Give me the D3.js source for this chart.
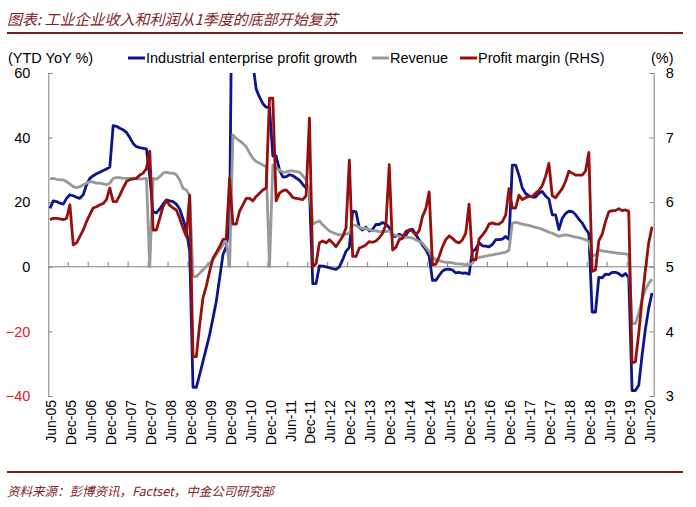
<!DOCTYPE html>
<meta charset="utf-8">
<script src="https://d3js.org/d3.v7.min.js"></script>
<style>
  body { margin: 0; background: #fff; }
  text { font-family: "Liberation Sans", Arial, sans-serif; }
</style>
<div id="chart"></div>
<script>

// monthly, Jun-05 .. Jul-20 (YTD figures, Jan repeats Jan-Feb)
const profitGrowth = [
  18.1, 20.4, 20.2, 19.7, 19.4, 21.2, 22.3,                            // 2005 Jun-Dec
  22.0, 21.5, 21.2, 22.3, 25.4, 27.4, 28.2, 28.8, 29.3, 29.8, 30.3, 30.9, // 2006
  43.7, 43.5, 42.9, 42.4, 41.6, 40.0, 38.2, 37.2, 36.9, 36.7, 36.5, 27.9, // 2007
  17.0, 16.7, 17.9, 19.4, 20.7, 20.4, 20.2, 19.4, 17.9, 14.8, 11.4, 4.9,  // 2008
  -37.3, -37.3, -33.4, -29.3, -25.2, -21.0, -15.9, -10.7, -3.5, 3.7, 6.3, 13.0, // 2009
  119.7, 119.7, 100, 90, 81.6, 78, 63, 55.0, 52.5, 50.5, 49.4, 49.4,   // 2010
  34.3, 34.3, 30.0, 27.8, 27.9, 28.5, 28.2, 27.5, 26.8, 25.5, 24.4, 24.0, // 2011
  -5.2, -5.2, 0.3, 0.2, 0.0, -0.3, -0.6, -0.8, 0.0, 2.2, 4.8, 6.0,     // 2012
  17.2, 17.0, 12.1, 11.4, 12.3, 11.1, 11.6, 13.1, 13.1, 13.7, 13.2, 12.2, // 2013
  9.4, 9.4, 10.1, 9.6, 9.8, 11.4, 11.6, 10.0, 8.2, 6.7, 5.3, 3.3,      // 2014
  -4.2, -4.2, -2.7, -1.3, -0.8, -0.7, -1.0, -1.9, -1.7, -2.0, -1.9, -2.3, // 2015
  4.8, 5.5, 7.4, 6.5, 6.4, 6.2, 6.9, 8.4, 8.4, 8.6, 9.4, 8.5,          // 2016
  31.5, 31.5, 28.3, 24.4, 22.7, 22.0, 21.6, 21.6, 22.8, 23.3, 21.9, 21.0, // 2017
  16.1, 16.1, 11.6, 15.0, 16.5, 17.2, 17.1, 16.2, 14.7, 13.6, 11.8, 10.3, // 2018
  -14.0, -14.0, -3.3, -3.4, -2.3, -2.4, -1.7, -1.7, -2.1, -2.9, -2.1, -3.3, // 2019
  -38.3, -38.3, -36.7, -27.4, -19.3, -12.8, -8.1                       // 2020 Jan-Jul
];

const revenue = [
  27.2, 27.4, 27.1, 26.9, 26.9, 26.4, 25.6,
  24.8, 24.5, 24.8, 25.4, 25.9, 26.4, 26.2, 25.9, 25.9, 25.7, 25.4, 25.9,
  27.4, 27.6, 27.6, 27.4, 27.4, 27.4, 27.4, 27.2, 27.2, 27.2, 27.4, 0,
  27.4, 27.1, 27.9, 29.0, 29.3, 29.0, 29.0, 28.5, 26.9, 24.3, 23.8, 22.0,
  -3.0, -3.0, -2.0, -0.9, 0.1, 1.1, 2.2, 3.7, 5.3, 6.8, 7.8, 0,
  40.8, 39.8, 39.0, 38.2, 37.2, 35.2, 33.6, 32.6, 32.1, 31.5, 31.0, 0,
  31.5, 30.5, 30.0, 29.3, 29.3, 29.7, 29.7, 29.5, 29.3, 28.2, 26.9, 23.3,
  13.2, 13.8, 14.2, 13.0, 12.0, 11.1, 10.6, 10.2, 9.9, 9.9, 10.1, 10.4,
  13.0, 12.8, 12.2, 11.8, 12.0, 11.4, 11.2, 11.1, 10.9, 10.9, 10.9, 11.1,
  10.1, 9.7, 9.4, 9.1, 9.1, 9.1, 8.9, 8.4, 7.8, 7.3, 6.0, 4.7,
  2.9, 2.2, 1.9, 1.6, 1.4, 1.4, 1.2, 1.0, 0.9, 0.8, 0.7, 0.6,
  1.1, 2.5, 2.9, 3.1, 3.3, 3.5, 3.7, 3.9, 4.1, 4.3, 4.5, 5.2,
  13.5, 13.8, 13.5, 13.2, 13.0, 12.8, 12.5, 12.2, 12.0, 11.6, 11.2, 10.7,
  10.4, 9.9, 9.4, 9.7, 9.9, 9.7, 9.4, 9.2, 9.0, 8.7, 8.4, 7.8,
  3.5, 3.6, 5.3, 4.9, 4.8, 4.6, 4.5, 4.3, 4.2, 4.1, 4.0, 3.8,
  -17.6, -17.6, -14.3, -10.2, -7.1, -5.1, -3.8
];

// right axis (%)
const profitMargin = [
  5.73, 5.75, 5.75, 5.74, 5.73, 5.75, 5.96,
  5.34, 5.37, 5.47, 5.57, 5.70, 5.81, 5.91, 5.93, 5.96, 5.98, 6.04, 6.22,
  6.01, 6.01, 6.11, 6.22, 6.32, 6.35, 6.36, 6.37, 6.42, 6.45, 6.52, 6.79,
  5.57, 5.57, 5.75, 5.93, 6.03, 5.95, 5.91, 5.88, 5.75, 5.60, 5.47, 6.11,
  3.61, 3.61, 4.10, 4.52, 4.70, 4.93, 5.13, 5.22, 5.31, 5.42, 5.44, 6.37,
  5.66, 5.66, 5.86, 5.96, 6.06, 6.06, 6.02, 6.09, 6.14, 6.19, 6.22, 7.61,
  7.61, 6.02, 6.14, 6.18, 6.19, 6.14, 6.07, 6.06, 6.05, 6.04, 6.10, 7.30,
  5.00, 5.05, 5.37, 5.40, 5.37, 5.42, 5.37, 5.31, 5.39, 5.47, 5.60, 6.65,
  5.16, 5.16, 5.29, 5.31, 5.34, 5.39, 5.38, 5.40, 5.45, 5.52, 5.65, 6.58,
  5.26, 5.30, 5.42, 5.44, 5.55, 5.57, 5.55, 5.49, 5.56, 5.78, 5.90, 6.16,
  5.03, 5.04, 5.16, 5.31, 5.42, 5.48, 5.44, 5.39, 5.37, 5.42, 5.52, 5.97,
  5.11, 5.11, 5.43, 5.49, 5.56, 5.66, 5.68, 5.66, 5.66, 5.70, 5.80, 6.21,
  5.91, 5.91, 6.11, 6.04, 6.07, 6.09, 6.09, 6.14, 6.18, 6.26, 6.40, 6.60,
  6.10, 6.07, 6.14, 6.21, 6.32, 6.48, 6.45, 6.42, 6.42, 6.42, 6.48, 6.77,
  4.93, 4.95, 5.40, 5.50, 5.70, 5.85, 5.87, 5.87, 5.90, 5.87, 5.88, 5.86,
  3.51, 3.53, 3.97, 4.49, 4.95, 5.37, 5.62
];

const tickLabels = [
  "Jun-05","Dec-05","Jun-06","Dec-06","Jun-07","Dec-07","Jun-08","Dec-08",
  "Jun-09","Dec-09","Jun-10","Dec-10","Jun-11","Dec-11","Jun-12","Dec-12",
  "Jun-13","Dec-13","Jun-14","Dec-14","Jun-15","Dec-15","Jun-16","Dec-16",
  "Jun-17","Dec-17","Jun-18","Dec-18","Jun-19","Dec-19","Jun-20"
];
const leftTicks = [-40, -20, 0, 20, 40, 60];
const rightTicks = [3, 4, 5, 6, 7, 8];

const fmt = d3.timeFormat("%b-%y");
const months = d3.timeMonth.range(new Date(2005, 5, 1), new Date(2020, 7, 1)).map(fmt);

const width = 696, height = 507;
const plot = {left: 48.3, right: 653.7, top: 73, bottom: 396};

const svg = d3.select("#chart")
  .append("svg")
  .attr("width", width)
  .attr("height", height);

// title + rules
svg.append("text")
  .attr("x", 7).attr("y", 25)
  .style("font-family", "'Noto Sans CJK SC', sans-serif")
  .style("font-size", "15px")
  .style("font-style", "italic")
  .style("fill", "#7f2525")
  .text("图表: 工业企业收入和利润从1季度的底部开始复苏");

svg.append("line")
  .attr("x1", 7).attr("x2", 683).attr("y1", 33).attr("y2", 33)
  .attr("stroke", "#7a1d1d").attr("stroke-width", 2);

svg.append("line")
  .attr("x1", 7).attr("x2", 683).attr("y1", 472).attr("y2", 472)
  .attr("stroke", "#7a1d1d").attr("stroke-width", 2);

svg.append("text")
  .attr("x", 7).attr("y", 496)
  .style("font-family", "'Noto Sans CJK SC', sans-serif")
  .style("font-size", "12.5px")
  .style("font-style", "italic")
  .style("fill", "#7f2525")
  .text("资料来源：彭博资讯，Factset，中金公司研究部");

// scales
const x = d3.scaleBand().domain(months).range([plot.left, plot.right]);
const cx = d => x(d) + x.bandwidth() / 2;
const yL = d3.scaleLinear().domain([-40, 60]).range([plot.bottom, plot.top]);
const yR = d3.scaleLinear().domain([3, 8]).range([plot.bottom, plot.top]);

const axisColor = "#7f7f7f";

// left axis
const gL = svg.append("g")
  .attr("transform", `translate(${plot.left},0)`)
  .call(d3.axisLeft(yL).tickValues(leftTicks).tickSizeInner(-4).tickSizeOuter(-4).tickPadding(18));
gL.selectAll("text")
  .style("font-size", "14.5px")
  .style("fill", d => d < 0 ? "#e0201c" : "#000");

// right axis
const gR = svg.append("g")
  .attr("transform", `translate(${plot.right},0)`)
  .call(d3.axisRight(yR).tickValues(rightTicks).tickFormat(d3.format("d"))
    .tickSizeInner(-4).tickSizeOuter(-4).tickPadding(12));
gR.selectAll("text").style("font-size", "14.5px").style("fill", "#000");

[gL, gR].forEach(g => {
  g.select(".domain").attr("stroke", axisColor);
  g.selectAll(".tick line").attr("stroke", axisColor);
});

// category axis on the zero line
svg.append("line")
  .attr("x1", plot.left).attr("x2", plot.right)
  .attr("y1", yL(0)).attr("y2", yL(0))
  .attr("stroke", axisColor);

svg.append("g")
  .selectAll("line")
  .data(months.filter((m, i) => i > 0 && i % 6 === 0))
  .join("line")
    .attr("x1", d => x(d)).attr("x2", d => x(d))
    .attr("y1", yL(0)).attr("y2", yL(0) - 5)
    .attr("stroke", axisColor);

// month labels under the plot
const gX = svg.append("g")
  .attr("transform", `translate(1,${plot.bottom + 4})`)
  .call(d3.axisBottom(x).tickValues(tickLabels).tickSize(0).tickPadding(0));
gX.select(".domain").remove();
gX.selectAll("text")
  .style("font-size", "14px")
  .style("fill", "#000")
  .attr("text-anchor", "end")
  .attr("transform", "rotate(-90)")
  .attr("x", 0)
  .attr("y", 0)
  .attr("dy", "0.36em");

// lines
svg.append("clipPath").attr("id", "clip")
  .append("rect")
  .attr("x", plot.left).attr("y", plot.top)
  .attr("width", plot.right - plot.left).attr("height", plot.bottom - plot.top);

const lineL = d3.line().x((d, i) => cx(months[i])).y(d => yL(d));
const lineR = d3.line().x((d, i) => cx(months[i])).y(d => yR(d));

const series = [
  {values: profitGrowth, line: lineL, color: "#0c168c"},
  {values: revenue, line: lineL, color: "#999999"},
  {values: profitMargin, line: lineR, color: "#960e0e"}
];

svg.append("g")
  .attr("clip-path", "url(#clip)")
  .selectAll("path")
  .data(series)
  .join("path")
    .attr("d", s => s.line(s.values))
    .attr("fill", "none")
    .attr("stroke", s => s.color)
    .attr("stroke-width", 2.8)
    .attr("stroke-linejoin", "round");

// axis titles + legend
svg.append("text").attr("x", 8).attr("y", 63)
  .style("font-size", "14.5px").text("(YTD YoY %)");
svg.append("text").attr("x", 651).attr("y", 63)
  .style("font-size", "14.5px").text("(%)");

const legend = [
  {label: "Industrial enterprise profit growth", color: "#0c168c", x: 128},
  {label: "Revenue", color: "#999999", x: 372},
  {label: "Profit margin (RHS)", color: "#960e0e", x: 460}
];
const lg = svg.append("g").selectAll("g").data(legend).join("g")
  .attr("transform", d => `translate(${d.x},58)`);
lg.append("line")
  .attr("x1", 0).attr("x2", 17)
  .attr("stroke", d => d.color).attr("stroke-width", 3);
lg.append("text")
  .attr("x", 18).attr("y", 5)
  .style("font-size", "14.5px")
  .text(d => d.label);

</script>
